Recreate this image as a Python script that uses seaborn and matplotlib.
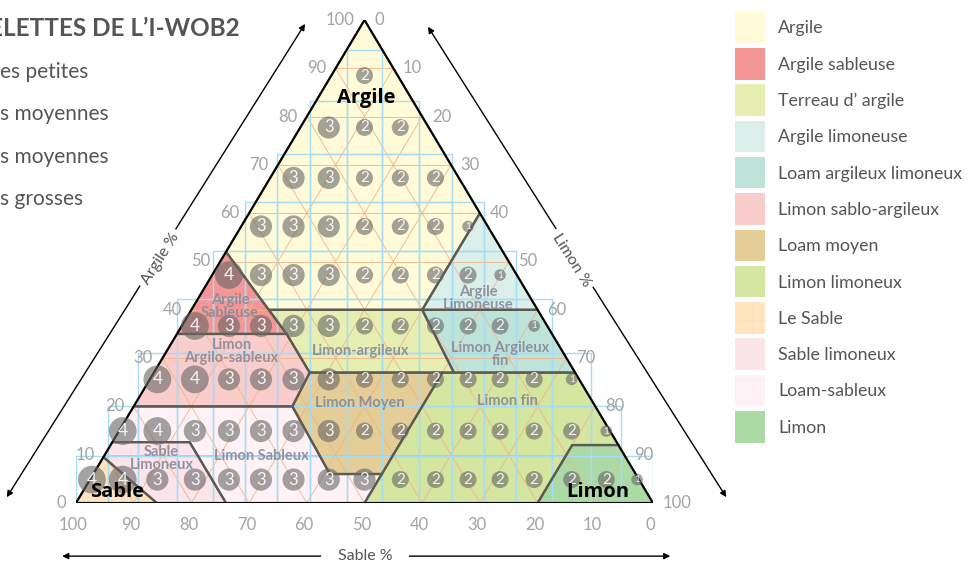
import numpy as np
import pandas as pd
import matplotlib
matplotlib.use("Agg")
import matplotlib.pyplot as plt
import seaborn as sns
from matplotlib.patches import Polygon, Rectangle

sns.set_theme(style="white")
plt.rcParams["font.family"] = ["Lato", "DejaVu Sans"]

# soil classes (legend order) and their colours
classes = ["Argile", "Argile sableuse", "Terreau d’ argile", "Argile limoneuse",
           "Loam argileux limoneux", "Limon sablo-argileux", "Loam moyen",
           "Limon limoneux", "Le Sable", "Sable limoneux", "Loam-sableux", "Limon"]
colors = ["#fffad7", "#f59696", "#e6eeb2", "#daeeea", "#bee4da", "#facdcd",
          "#e4cd96", "#d4e6a0", "#ffe4be", "#fce4eb", "#fff2f6", "#acdaa5"]

# class outlines as (sable %, argile %) corners
poly_argile = [(0, 100), (48, 52), (46.6, 40), (20, 40), (0, 60)]
poly_arg_sab = [(65, 35), (46, 35), (48, 52)]
poly_lim_arg = [(46.6, 40), (20, 40), (21, 27), (46, 27), (46, 35)]
poly_arg_lim = [(0, 60), (20, 40), (0, 40)]
poly_lim_arg_fin = [(20, 40), (0, 40), (0, 27), (21, 27)]
poly_lim_arg_sab = [(65, 35), (46, 35), (46, 27), (52.5, 20), (80, 20)]
poly_moyen = [(46, 27), (23, 27), (44, 6), (53, 6), (52.5, 20)]
poly_lim_fin = [(23, 27), (0, 27), (0, 12), (8, 12), (20, 0), (50, 0)]
poly_sable = [(100, 0), (90.5, 9.5), (86, 0)]
poly_sab_lim = [(90.5, 9.5), (87.4, 12.6), (74, 12.6), (74, 0), (86, 0)]
poly_lim_sab = [(80, 20), (52.5, 20), (53, 6), (44, 6), (50, 0), (74, 0),
                (74, 12.6), (87.4, 12.6)]
poly_limon = [(8, 12), (0, 12), (0, 0), (20, 0)]
polys = [poly_argile, poly_arg_sab, poly_lim_arg, poly_arg_lim, poly_lim_arg_fin,
         poly_lim_arg_sab, poly_moyen, poly_lim_fin, poly_sable, poly_sab_lim,
         poly_lim_sab, poly_limon]

# grey names inside the triangle (sable %, argile %)
zone_names = ["Argile\nSableuse", "Limon\nArgilo-sableux", "Limon-argileux",
              "Argile\nLimoneuse", "Limon Argileux\nfin", "Limon Moyen", "Limon fin",
              "Sable\nLimoneux", "Limon Sableux"]
zone_sand = [53.0, 57.4, 35.0, 9.1, 11.1, 40.5, 14.6, 80.5, 63.0]
zone_clay = [40.6, 31.3, 31.5, 42.4, 30.8, 20.7, 21.1, 9.3, 9.7]

big_names = ["Argile", "Sable", "Limon"]
big_sand = [7.8, 91.8, 8.4]
big_clay = [83.9, 2.3, 2.3]

# counting grid: column edges along the base, row edges in argile %
col_edges = [0, 5.5, 10.7, 17.5, 23.7, 29.3, 34.8, 40.6, 47.0, 53.0, 59.4,
             65.2, 70.7, 76.3, 82.5, 89.3, 94.5, 100]
row_edges = [0, 9.7, 20.1, 31.1, 42.2, 52.2, 62.3, 72.3, 83.2, 93.8]
# row k starts at column k
counts = [
    [4, 4, 3, 3, 3, 3, 3, 3, 3, 2, 2, 2, 2, 2, 2, 2, 1],
    [4, 4, 3, 3, 3, 3, 3, 2, 2, 2, 2, 2, 2, 2, 1],
    [4, 4, 3, 3, 3, 3, 2, 2, 2, 2, 2, 2, 1],
    [4, 3, 3, 3, 3, 2, 2, 2, 2, 2, 1],
    [4, 3, 3, 3, 2, 2, 2, 2, 1],
    [3, 3, 3, 2, 2, 2, 1],
    [3, 3, 2, 2, 2],
    [3, 2, 2],
    [2],
]

size_labels = ["es petites", "s moyennes", "s moyennes", "s grosses"]
ticks = list(range(0, 101, 10))


def tern(sand, clay):
    return 100 - sand - clay / 2.0, clay


fig = plt.figure(figsize=(9.75, 5.65), dpi=100)
fig.patch.set_facecolor("white")

# overlay in pixels for the title and legend
lax = fig.add_axes([0, 0, 1, 1])
lax.set_xlim(0, 975)
lax.set_ylim(565, 0)
lax.axis("off")

ax = fig.add_axes([76 / 975, 62 / 565, 577 / 975, 483 / 565])

# filled classes
for pts, col in zip(polys, colors):
    xy = [tern(s, c) for s, c in pts]
    ax.add_patch(Polygon(xy, closed=True, facecolor=col, edgecolor="none", zorder=1))

# orange ternary grid
for v in range(10, 100, 10):
    kw = dict(color="#f4b283", lw=0.7, alpha=0.85, zorder=2)
    ax.plot([v / 2, 100 - v / 2], [v, v], **kw)
    ax.plot([100 - v, (100 - v) / 2], [0, 100 - v], **kw)
    ax.plot([v, v + (100 - v) / 2], [0, 100 - v], **kw)

# light blue counting cells
for k in range(len(counts)):
    y0, y1 = row_edges[k], row_edges[k + 1]
    for c in range(k, len(col_edges) - 1 - k):
        ax.add_patch(Rectangle((col_edges[c], y0), col_edges[c + 1] - col_edges[c], y1 - y0,
                               fill=False, edgecolor="#a6dcf4", lw=1.0, zorder=3))

# class outlines
for pts in polys:
    xy = [tern(s, c) for s, c in pts]
    ax.add_patch(Polygon(xy, closed=True, facecolor="none", edgecolor="#5c5a52",
                         lw=1.6, zorder=4, joinstyle="round"))
ax.plot([0, 100, 50, 0], [0, 0, 100, 0], color="black", lw=1.4, zorder=4.5)

# circles
rows = []
for k, vals in enumerate(counts):
    yc = (row_edges[k] + row_edges[k + 1]) / 2
    for j, n in enumerate(vals):
        c = k + j
        rows.append({"x": (col_edges[c] + col_edges[c + 1]) / 2, "y": yc, "n": n})
df = pd.DataFrame(rows)
sns.scatterplot(data=df, x="x", y="y", size="n", sizes={1: 70, 2: 150, 3: 255, 4: 400},
                color="#666666", alpha=0.6, linewidth=0, legend=False, ax=ax, zorder=5)
ax.set_xlim(0, 100)
ax.set_ylim(0, 100)
ax.axis("off")
fsz = {1: 7, 2: 11, 3: 12, 4: 12.5}
for _, r in df.iterrows():
    ax.text(r["x"], r["y"], str(int(r["n"])), ha="center", va="center",
            fontsize=fsz[int(r["n"])], color="white", alpha=0.9, zorder=6)

# class names
for name, s, c in zip(zone_names, zone_sand, zone_clay):
    x, y = tern(s, c)
    ax.text(x, y, name, ha="center", va="center", fontsize=10.5, fontweight="bold",
            color="#878a9a", alpha=0.9, linespacing=0.9, zorder=7)
for name, s, c in zip(big_names, big_sand, big_clay):
    x, y = tern(s, c)
    ax.text(x, y, name, ha="center", va="center", fontsize=14.5, fontweight="bold",
            color="black", family=["Open Sans", "DejaVu Sans"], zorder=7)

# tick labels
tk = dict(fontsize=12, color="#a3a3a3", textcoords="offset points", annotation_clip=False)
for t in ticks:
    ax.annotate(str(t), xy=(100 - t, 0), xytext=(-2, -16), ha="center", va="center", **tk)
    ax.annotate(str(t), xy=(t / 2, t), xytext=(-7, 0), ha="right", va="center", **tk)
    ax.annotate(str(t), xy=(50 + t / 2, 100 - t), xytext=(7, 0), ha="left", va="center", **tk)

# axis arrows and titles
arw = dict(arrowstyle="<|-|>", color="black", lw=1.0, mutation_scale=9,
           shrinkA=0, shrinkB=0)
ax.annotate("", xy=(-12.0, 1.2), xytext=(39.7, 99.2), arrowprops=arw, annotation_clip=False)
ax.annotate("", xy=(61.0, 98.6), xytext=(112.7, 1.2), arrowprops=arw, annotation_clip=False)
ax.annotate("", xy=(-2.4, -11.0), xytext=(103.0, -11.0), arrowprops=arw, annotation_clip=False)
box = dict(facecolor="white", edgecolor="none", pad=3)
ax.text(14.6, 50.5, "Argile %", rotation=57.8, rotation_mode="anchor", ha="center",
        va="center", fontsize=11.5, color="#555555", bbox=box, clip_on=False)
ax.text(85.8, 50.3, "Limon %", rotation=-57.8, rotation_mode="anchor", ha="center",
        va="center", fontsize=11.5, color="#555555", bbox=box, clip_on=False)
ax.text(50.1, -11.0, "Sable %", ha="center", va="center", fontsize=11.5,
        color="#555555", bbox=dict(facecolor="white", edgecolor="none", pad=12), clip_on=False)

# title and size texts (cut at the left border)
lax.text(240, 28, "ELETTES DE L’I-WOB2", ha="right", va="center", fontsize=17.5,
         fontweight="bold", color="#555555")
for i, lab in enumerate(size_labels):
    lax.text(0, 72 + 42.3 * i, lab, ha="left", va="center", fontsize=15, color="#555555")

# legend of classes
for i, (name, col) in enumerate(zip(classes, colors)):
    yc = 27.5 + 36.3 * i
    lax.add_patch(Rectangle((735, yc - 15.8), 30, 31.6, facecolor=col, edgecolor="none"))
    lax.text(778, yc + 1, name, ha="left", va="center", fontsize=12.8, color="#555555")

fig.savefig("out.png", dpi=100, facecolor="white")
